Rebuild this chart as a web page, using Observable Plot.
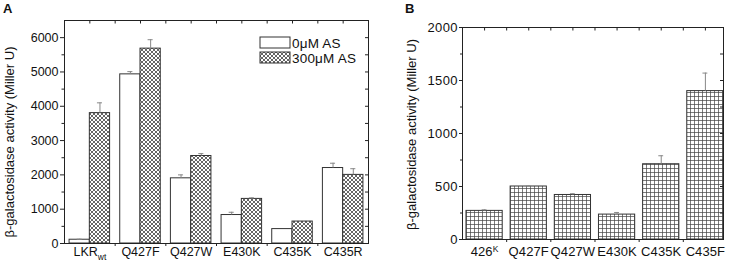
<!DOCTYPE html>
<html><head><meta charset="utf-8">
<script src="https://cdn.jsdelivr.net/npm/d3@7"></script>
<script src="https://cdn.jsdelivr.net/npm/@observablehq/plot@0.6"></script>
<style>
body{margin:0;background:#fff;font-family:"Liberation Sans",Arial,sans-serif;}
#wrap{position:relative;width:729px;height:267px;}
#wrap svg{position:absolute;top:0;}
.panel{position:absolute;top:1px;font-weight:bold;font-size:13px;line-height:15px;color:#111;font-family:"Liberation Sans",Arial,sans-serif;}
</style></head><body>
<div id="wrap"></div>
<script>
// ---- Panel A data ----
const catsA = ["LKRwt", "Q427F", "Q427W", "E430K", "C435K", "C435R"];
const seriesA = ["0μM AS", "300μM AS"];
const valsA0 = [110, 4930, 1900, 830, 420, 2200];
const errA0 = [15, 80, 100, 80, 0, 140];
const valsA300 = [3800, 5680, 2550, 1300, 640, 2000];
const errA300 = [300, 260, 70, 30, 0, 180];
const yTicksA = [0, 1000, 2000, 3000, 4000, 5000, 6000];
const titleY = "β-galactosidase activity (Miller U)";

// ---- Panel B data ----
const catsB = ["426K", "Q427F", "Q427W", "E430K", "C435K", "C435F"];
const valsB = [270, 500, 420, 235, 710, 1400];
const errB = [10, 5, 12, 20, 80, 170];
const yTicksB = [0, 500, 1000, 1500, 2000];

const FONT = "Liberation Sans, Arial, sans-serif";
const INK = "#222";

const defs = () => {
  const d = d3.create("svg:defs");
  const pa = d.append("pattern").attr("id", "hatchA").attr("patternUnits", "userSpaceOnUse")
    .attr("width", 4).attr("height", 4);
  pa.append("rect").attr("width", 4).attr("height", 4).attr("fill", "white");
  pa.append("path").attr("d", "M0,0L4,4M4,0L0,4").attr("stroke", "#333").attr("stroke-width", 0.75);
  const pb = d.append("pattern").attr("id", "gridB").attr("patternUnits", "userSpaceOnUse")
    .attr("width", 4).attr("height", 4);
  pb.append("rect").attr("width", 4).attr("height", 4).attr("fill", "white");
  pb.append("path").attr("d", "M0,0.5H4M0.5,0V4").attr("stroke", "#444").attr("stroke-width", 0.7);
  return d.node();
};

const legendA = (index, scales, values, dims) => {
  const g = d3.create("svg:g").attr("font-family", FONT).attr("font-size", 13.5)
    .attr("fill", "#111").attr("text-anchor", "start");
  const x0 = dims.width - dims.marginRight - 108;
  const fills = ["white", "url(#hatchA)"];
  seriesA.forEach((s, k) => {
    const y0 = dims.marginTop + 17 + k * 15;
    g.append("rect").attr("x", x0).attr("y", y0).attr("width", 30).attr("height", 11)
      .attr("fill", fills[k]).attr("stroke", "#333");
    g.append("text").attr("x", x0 + 32).attr("y", y0 + 10.5).attr("letter-spacing", 0.2).text(s);
  });
  return g.node();
};

const rowsA = catsA.map((c, i) => ({i, c, v0: valsA0[i], e0: errA0[i], v1: valsA300[i], e1: errA300[i]}));
const W = 0.4, CAP = 0.05;
const fwA = 370 - 64 - 2, fhA = 267 - 20 - 24;

const plotA = Plot.plot({
  width: 370, height: 267,
  marginLeft: 64, marginRight: 2, marginTop: 20, marginBottom: 24,
  x: {domain: [-0.5, 5.5]},
  y: {domain: [0, 6500]},
  style: {fontFamily: FONT, color: "#111", background: "white", overflow: "visible"},
  marks: [
    defs,
    Plot.rectY(rowsA, {x1: d => d.i - W, x2: d => d.i, y: "v0", fill: "white", stroke: "#333", strokeWidth: 1}),
    Plot.rectY(rowsA, {x1: d => d.i, x2: d => d.i + W, y: "v1", fill: "url(#hatchA)", stroke: "#333", strokeWidth: 1}),
    Plot.ruleX(rowsA.filter(d => d.e0 > 0), {x: d => d.i - W / 2, y1: "v0", y2: d => d.v0 + d.e0, stroke: "#888"}),
    Plot.ruleY(rowsA.filter(d => d.e0 > 0), {y: d => d.v0 + d.e0, x1: d => d.i - W / 2 - CAP, x2: d => d.i - W / 2 + CAP, stroke: "#888"}),
    Plot.ruleX(rowsA.filter(d => d.e1 > 0), {x: d => d.i + W / 2, y1: "v1", y2: d => d.v1 + d.e1, stroke: "#888"}),
    Plot.ruleY(rowsA.filter(d => d.e1 > 0), {y: d => d.v1 + d.e1, x1: d => d.i + W / 2 - CAP, x2: d => d.i + W / 2 + CAP, stroke: "#888"}),
    Plot.frame({stroke: INK}),
    Plot.axisY({ticks: yTicksA, tickSize: 4, tickPadding: 2, fontSize: 12.5, label: null, stroke: INK, tickFormat: d3.format("d")}),
    Plot.axisY({ticks: yTicksA.slice(0, -1).map(v => v + 500), tickSize: 2.5, tickFormat: () => "", label: null, stroke: INK}),
    Plot.tickY(d3.range(500, 6500, 500), {y: d => d, insetLeft: fwA - 3, stroke: INK}),
    Plot.tickX(d3.range(0, 5.01, 0.5), {x: d => d, insetBottom: fhA - 3.5, stroke: INK}),
    Plot.axisX({ticks: d3.range(0.5, 5, 1), tickSize: 3, tickFormat: () => "", label: null, stroke: INK}),
    Plot.axisX({ticks: d3.range(catsA.length), tickSize: 0, tickPadding: 4, tickFormat: i => catsA[i], fontSize: 12.5, label: null}),
    Plot.text([titleY], {text: d => d, frameAnchor: "left", textAnchor: "middle", rotate: -90, dx: -55, dy: 10, fontSize: 13, ariaLabel: "ytitle", fill: "#111"}),
    legendA
  ]
});

const rowsB = catsB.map((c, i) => ({i, c, v: valsB[i], e: errB[i]}));
const WB = 0.41, CAPB = 0.055;
const fwB = 359 - 92 - 6, fhB = 267 - 27 - 28;

const plotB = Plot.plot({
  width: 359, height: 267,
  marginLeft: 92, marginRight: 6, marginTop: 27, marginBottom: 28,
  x: {domain: [-0.5, 5.41]},
  y: {domain: [0, 2000]},
  style: {fontFamily: FONT, color: "#111", background: "white", overflow: "visible"},
  marks: [
    Plot.rectY(rowsB, {x1: d => d.i - WB, x2: d => d.i + WB, y: "v", fill: "url(#gridB)", stroke: "#333", strokeWidth: 1}),
    Plot.ruleX(rowsB, {x: "i", y1: "v", y2: d => d.v + d.e, stroke: "#888"}),
    Plot.ruleY(rowsB, {y: d => d.v + d.e, x1: d => d.i - CAPB, x2: d => d.i + CAPB, stroke: "#888"}),
    Plot.frame({stroke: INK}),
    Plot.axisY({ticks: yTicksB, tickSize: 3, tickPadding: 1.5, fontSize: 13, label: null, stroke: INK, tickFormat: d3.format("d")}),
    Plot.axisY({ticks: yTicksB.slice(0, -1).map(v => v + 250), tickSize: 2, tickFormat: () => "", label: null, stroke: INK}),
    Plot.tickY(d3.range(250, 2000, 250), {y: d => d, insetLeft: fwB - 3, stroke: INK}),
    Plot.tickX(d3.range(0, 5.01, 0.5), {x: d => d, insetBottom: fhB - 3.5, stroke: INK}),
    Plot.axisX({ticks: d3.range(0.5, 5, 1), tickSize: 3, tickFormat: () => "", label: null, stroke: INK}),
    Plot.axisX({ticks: d3.range(catsB.length), tickSize: 0, tickPadding: 7, tickFormat: i => catsB[i], fontSize: 13, label: null}),
    Plot.text([titleY], {text: d => d, frameAnchor: "left", textAnchor: "middle", rotate: -90, dx: -51, dy: 1, fontSize: 13, ariaLabel: "ytitle", fill: "#111"})
  ]
});

const wrap = document.getElementById("wrap");
plotA.style.left = "0px";
plotB.style.left = "370px";
wrap.appendChild(plotA);
wrap.appendChild(plotB);

d3.select(plotA).selectAll("g[aria-label=ytitle] text").attr("letter-spacing", 0.6);
d3.select(plotB).selectAll("g[aria-label=ytitle] text").attr("letter-spacing", 0.1);
d3.select(plotB).selectAll("g[aria-label='x-axis tick label'] text").attr("letter-spacing", 0.1);
d3.select(plotB).selectAll("g[aria-label='y-axis tick label'] text").attr("letter-spacing", 0.4);

d3.select(plotA).selectAll("text").filter(function () { return this.textContent === "LKRwt"; })
  .each(function () {
    const t = d3.select(this); t.text("LKR");
    t.append("tspan").attr("font-size", 8.5).attr("dy", "0.4em").text("wt");
  });
d3.select(plotB).selectAll("text").filter(function () { return this.textContent === "426K"; })
  .each(function () {
    const t = d3.select(this); t.text("426");
    t.append("tspan").attr("font-size", 8.5).attr("dy", "-0.45em").text("K");
  });

for (const [label, left] of [["A", 3], ["B", 405]]) {
  const div = document.createElement("div");
  div.className = "panel"; div.textContent = label; div.style.left = left + "px";
  wrap.appendChild(div);
}
</script>
</body></html>
